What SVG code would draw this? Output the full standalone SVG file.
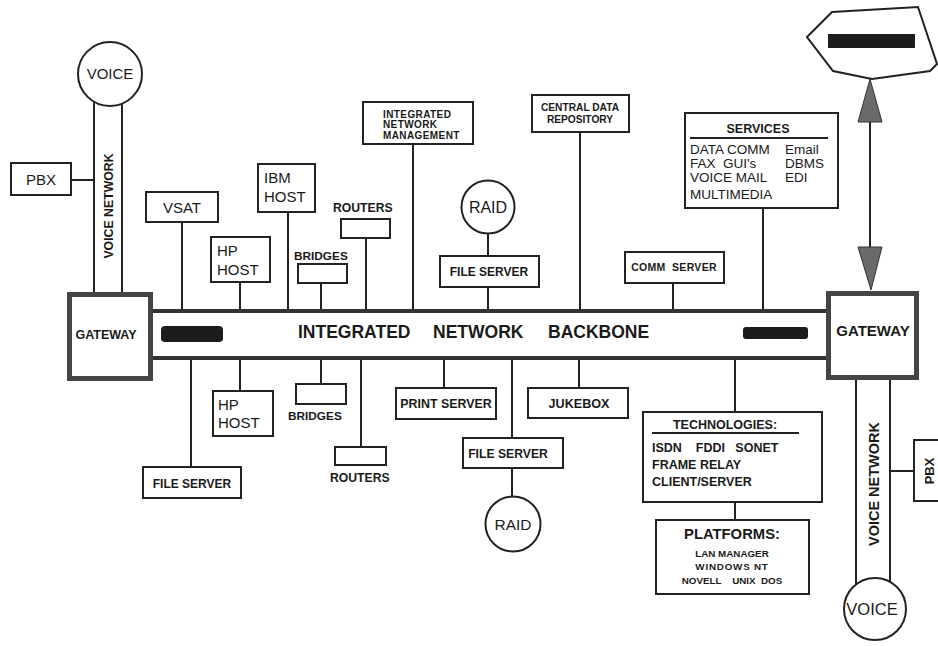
<svg xmlns="http://www.w3.org/2000/svg" width="938" height="646" viewBox="0 0 938 646">
<style>
  .bx{fill:#fff;stroke:#222;stroke-width:2}
  .gw{fill:#fff;stroke:#444;stroke-width:5}
  .ln{stroke:#222;stroke-width:2;fill:none}
  .bb{stroke:#333;stroke-width:4}
  .t{font-family:"Liberation Sans",Arial,sans-serif;fill:#1a1a1a}
  .b{font-weight:bold}
  .mid{text-anchor:middle}
  .red{fill:#1c1c1c}
  .ah{fill:#6a6a6a;stroke:#333;stroke-width:1}
</style>
<rect width="938" height="646" fill="#fff"/>

<g id="connectors">
  <line class="ln" x1="94" y1="102" x2="94" y2="293"/>
  <line class="ln" x1="122" y1="102" x2="122" y2="293"/>
  <line class="ln" x1="71" y1="180" x2="94" y2="180"/>
  <line class="ln" x1="182" y1="222" x2="182" y2="310"/>
  <line class="ln" x1="240" y1="282" x2="240" y2="310"/>
  <line class="ln" x1="288" y1="212" x2="288" y2="310"/>
  <line class="ln" x1="321" y1="283" x2="321" y2="310"/>
  <line class="ln" x1="366" y1="238" x2="366" y2="310"/>
  <line class="ln" x1="413" y1="144" x2="413" y2="310"/>
  <line class="ln" x1="488" y1="233" x2="488" y2="256"/>
  <line class="ln" x1="488" y1="287" x2="488" y2="310"/>
  <line class="ln" x1="580" y1="132" x2="580" y2="310"/>
  <line class="ln" x1="673" y1="283" x2="673" y2="310"/>
  <line class="ln" x1="763" y1="208" x2="763" y2="310"/>
  <line class="ln" x1="191" y1="359" x2="191" y2="467"/>
  <line class="ln" x1="240" y1="359" x2="240" y2="391"/>
  <line class="ln" x1="321" y1="359" x2="321" y2="384"/>
  <line class="ln" x1="361" y1="359" x2="361" y2="447"/>
  <line class="ln" x1="444" y1="359" x2="444" y2="388"/>
  <line class="ln" x1="512" y1="359" x2="512" y2="438"/>
  <line class="ln" x1="512" y1="468" x2="512" y2="497"/>
  <line class="ln" x1="579" y1="359" x2="579" y2="388"/>
  <line class="ln" x1="735" y1="359" x2="735" y2="412"/>
  <line class="ln" x1="735" y1="502" x2="735" y2="520"/>
  <line class="ln" x1="856" y1="379" x2="856" y2="584"/>
  <line class="ln" x1="890" y1="379" x2="890" y2="584"/>
  <line class="ln" x1="890" y1="471" x2="914" y2="471"/>
  <line class="ln" x1="870" y1="120" x2="870" y2="249"/>
  <polygon class="ah" points="870,79 858,122 882,122"/>
  <polygon class="ah" points="858,247 882,247 871,290"/>
</g>

<g id="backbone">
  <line class="bb" x1="152" y1="311" x2="827" y2="311"/>
  <line class="bb" x1="152" y1="358" x2="827" y2="358"/>
  <rect class="red" x="161" y="326" width="62" height="16" rx="4"/>
  <rect class="red" x="743" y="327" width="65" height="12" rx="3"/>
  <text class="t b" x="298" y="338" font-size="17.5">INTEGRATED</text>
  <text class="t b" x="433" y="338" font-size="17.5">NETWORK</text>
  <text class="t b" x="548" y="338" font-size="17.5">BACKBONE</text>
</g>

<g id="gateway-left">
  <rect class="gw" x="69.5" y="294.5" width="81" height="84"/>
  <text class="t b mid" x="106" y="339" font-size="12.5">GATEWAY</text>
</g>
<g id="gateway-right">
  <rect class="gw" x="828.5" y="293.5" width="88" height="84"/>
  <text class="t b mid" x="873" y="336" font-size="15">GATEWAY</text>
</g>

<g id="voice-left">
  <circle class="bx" cx="110" cy="74" r="32"/>
  <text class="t mid" x="110" y="79" font-size="15">VOICE</text>
</g>
<g id="voice-network-left">
  <text class="t b mid" transform="translate(113,206) rotate(-90)" font-size="12.3">VOICE NETWORK</text>
</g>
<g id="pbx-left">
  <rect class="bx" x="11" y="163" width="60" height="32"/>
  <text class="t mid" x="41" y="185" font-size="15">PBX</text>
</g>
<g id="vsat">
  <rect class="bx" x="146" y="192" width="72" height="30"/>
  <text class="t mid" x="182" y="213" font-size="15">VSAT</text>
</g>
<g id="hp-host-top">
  <rect class="bx" x="211" y="237" width="59" height="45"/>
  <text class="t" x="217" y="256" font-size="15">HP</text>
  <text class="t" x="217" y="275" font-size="15">HOST</text>
</g>
<g id="ibm-host">
  <rect class="bx" x="258" y="164" width="57" height="48"/>
  <text class="t" x="264" y="183" font-size="15">IBM</text>
  <text class="t" x="264" y="202" font-size="15">HOST</text>
</g>
<g id="bridges-top">
  <text class="t b" x="294" y="260" font-size="11.8">BRIDGES</text>
  <rect class="bx" x="298" y="264" width="49" height="19"/>
</g>
<g id="routers-top">
  <text class="t b" x="333" y="212" font-size="12.2">ROUTERS</text>
  <rect class="bx" x="341" y="219" width="49" height="19"/>
</g>
<g id="network-management">
  <rect class="bx" x="363" y="102" width="110" height="42"/>
  <text class="t b" x="383" y="118" font-size="10" letter-spacing="0.4">INTEGRATED</text>
  <text class="t b" x="383" y="128" font-size="10" letter-spacing="0.4">NETWORK</text>
  <text class="t b" x="383" y="139" font-size="10" letter-spacing="0.4">MANAGEMENT</text>
</g>
<g id="raid-top">
  <circle class="bx" cx="488" cy="207" r="26.5"/>
  <text class="t mid" x="488" y="213" font-size="16">RAID</text>
</g>
<g id="file-server-top">
  <rect class="bx" x="440" y="256" width="99" height="31"/>
  <text class="t b mid" x="489" y="276" font-size="12">FILE SERVER</text>
</g>
<g id="central-data-repository">
  <rect class="bx" x="532" y="95" width="97" height="37"/>
  <text class="t b mid" x="580" y="111" font-size="10.2">CENTRAL DATA</text>
  <text class="t b mid" x="580" y="123" font-size="10.2">REPOSITORY</text>
</g>
<g id="comm-server">
  <rect class="bx" x="625" y="252" width="99" height="31"/>
  <text class="t b mid" x="674" y="271" font-size="10.5" letter-spacing="0.3" xml:space="preserve">COMM  SERVER</text>
</g>
<g id="services">
  <rect class="bx" x="685" y="113" width="153" height="95"/>
  <text class="t b mid" x="758" y="133" font-size="12.5">SERVICES</text>
  <line class="ln" x1="690" y1="138" x2="828" y2="138"/>
  <text class="t" x="690" y="154" font-size="13.5">DATA COMM</text>
  <text class="t" x="785" y="154" font-size="13.5">Email</text>
  <text class="t" x="690" y="168" font-size="13.5" xml:space="preserve">FAX  GUI's</text>
  <text class="t" x="785" y="168" font-size="13.5">DBMS</text>
  <text class="t" x="690" y="182" font-size="13.5">VOICE MAIL</text>
  <text class="t" x="785" y="182" font-size="13.5">EDI</text>
  <text class="t" x="690" y="199" font-size="13.5">MULTIMEDIA</text>
</g>
<g id="external-network">
  <polygon points="807,37 832,12 918,7 937,64 930,71 872,79 833,71" fill="#fff" stroke="#222" stroke-width="2"/>
  <rect class="red" x="828" y="34" width="87" height="14"/>
</g>

<g id="file-server-bottom-left">
  <rect class="bx" x="143" y="467" width="98" height="31"/>
  <text class="t b mid" x="192" y="488" font-size="12">FILE SERVER</text>
</g>
<g id="hp-host-bottom">
  <rect class="bx" x="213" y="391" width="60" height="45"/>
  <text class="t" x="218" y="410" font-size="15">HP</text>
  <text class="t" x="218" y="428" font-size="15">HOST</text>
</g>
<g id="bridges-bottom">
  <rect class="bx" x="296" y="384" width="50" height="20"/>
  <text class="t b" x="288" y="420" font-size="11.8">BRIDGES</text>
</g>
<g id="routers-bottom">
  <rect class="bx" x="335" y="447" width="51" height="18"/>
  <text class="t b" x="330" y="482" font-size="12.2">ROUTERS</text>
</g>
<g id="print-server">
  <rect class="bx" x="396" y="388" width="100" height="31"/>
  <text class="t b mid" x="446" y="408" font-size="12.4">PRINT SERVER</text>
</g>
<g id="file-server-bottom">
  <rect class="bx" x="463" y="438" width="100" height="30"/>
  <text class="t b mid" x="508" y="458" font-size="12.2">FILE SERVER</text>
</g>
<g id="raid-bottom">
  <circle class="bx" cx="513" cy="524" r="27.5"/>
  <text class="t mid" x="513" y="530" font-size="15.5">RAID</text>
</g>
<g id="jukebox">
  <rect class="bx" x="528" y="388" width="100" height="30"/>
  <text class="t b mid" x="579" y="408" font-size="12.6">JUKEBOX</text>
</g>
<g id="technologies">
  <rect class="bx" x="643" y="412" width="179" height="90"/>
  <text class="t b mid" x="725" y="429" font-size="12.5">TECHNOLOGIES:</text>
  <line class="ln" x1="652" y1="433" x2="799" y2="433"/>
  <text class="t b" x="652" y="452" font-size="12.5" xml:space="preserve">ISDN    FDDI   SONET</text>
  <text class="t b" x="652" y="469" font-size="12.5">FRAME RELAY</text>
  <text class="t b" x="652" y="486" font-size="12.5">CLIENT/SERVER</text>
</g>
<g id="platforms">
  <rect class="bx" x="656" y="520" width="153" height="74"/>
  <text class="t b mid" x="732" y="539" font-size="14.8">PLATFORMS:</text>
  <text class="t b mid" x="732" y="557" font-size="9.8">LAN MANAGER</text>
  <text class="t b mid" x="732" y="570" font-size="9.8" letter-spacing="0.8">WINDOWS NT</text>
  <text class="t b mid" x="732" y="584" font-size="9.8" xml:space="preserve">NOVELL    UNIX  DOS</text>
</g>
<g id="voice-network-right">
  <text class="t b mid" transform="translate(879,484) rotate(-90)" font-size="14.5">VOICE NETWORK</text>
</g>
<g id="pbx-right">
  <rect class="bx" x="914" y="440" width="40" height="61"/>
  <text class="t b mid" transform="translate(934,471) rotate(-90)" font-size="13">PBX</text>
</g>
<g id="voice-right">
  <circle class="bx" cx="875" cy="609" r="31"/>
  <text class="t mid" x="872" y="615" font-size="16.5">VOICE</text>
</g>
</svg>
